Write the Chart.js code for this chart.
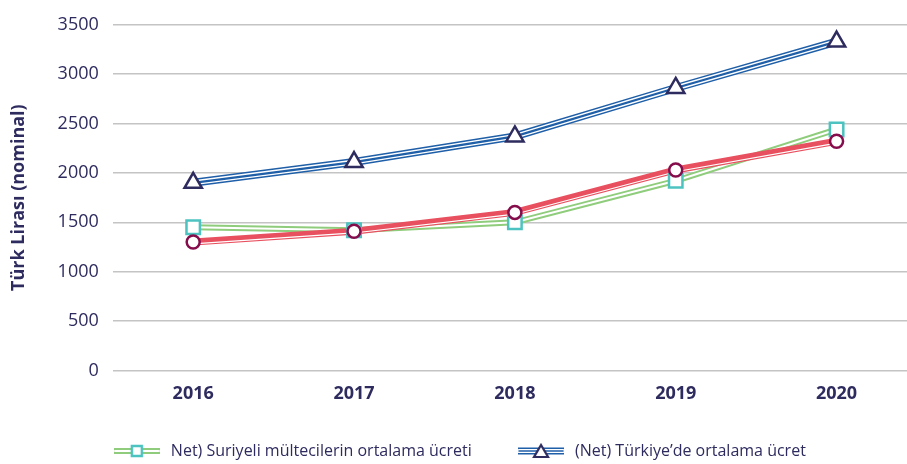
<!DOCTYPE html>
<html>
<head>
<meta charset="utf-8">
<script src="https://cdn.jsdelivr.net/npm/chart.js@4.4.1/dist/chart.umd.min.js"></script>
<style>
  html, body { margin: 0; padding: 0; background: #fff; overflow: hidden; }
</style>
</head>
<body>
<canvas id="chart" width="917" height="464"></canvas>
<script>
const years = ['2016', '2017', '2018', '2019', '2020'];
const refugeeWage = [1450, 1420, 1500, 1920, 2440];
const turkeyWage = [1900, 2110, 2370, 2860, 3330];
const otherWage = [1300, 1410, 1600, 2030, 2320];
const yTicks = [0, 500, 1000, 1500, 2000, 2500, 3000, 3500];
const refugeeLabel = 'Net) Suriyeli mültecilerin ortalama ücreti';
const turkeyLabel = '(Net) Türkiye’de ortalama ücret';

const navy = '#2e2b5f';
const green = '#8fcd7c';
const teal = '#4cc3c0';
const blue = '#1f5fa8';
const red = '#e8505f';
const maroon = '#850d4c';
const font = '"Open Sans", "Noto Sans", sans-serif';

function legendIcon(kind) {
  const c = document.createElement('canvas');
  c.width = 46; c.height = 16;
  const g = c.getContext('2d');
  const y = 8;
  function stroke(color, w) {
    g.strokeStyle = color; g.lineWidth = w;
    g.beginPath(); g.moveTo(1, y); g.lineTo(45, y); g.stroke();
  }
  g.lineCap = 'round';
  if (kind === 'green') {
    stroke(green, 6); stroke('#fff', 2);
    g.fillStyle = '#fff'; g.strokeStyle = teal; g.lineWidth = 2.5;
    g.fillRect(18, 3, 10, 10); g.strokeRect(18, 3, 10, 10);
  } else {
    stroke(blue, 7); stroke('#fff', 4); stroke(blue, 1.5);
    g.fillStyle = '#fff'; g.strokeStyle = navy; g.lineWidth = 2.2;
    g.beginPath(); g.moveTo(23, 2); g.lineTo(30, 14); g.lineTo(16, 14); g.closePath();
    g.fill(); g.stroke();
  }
  return c;
}

// draws a dataset shifted a few pixels down (thin half of the compound red line)
const shiftPlugin = {
  id: 'shift',
  beforeDatasetDraw(chart, args) {
    const dy = chart.data.datasets[args.index].shiftY;
    if (dy) { chart.ctx.save(); chart.ctx.translate(0, dy); }
  },
  afterDatasetDraw(chart, args) {
    if (chart.data.datasets[args.index].shiftY) chart.ctx.restore();
  }
};

function lineSet(data, color, width, order, extra) {
  return Object.assign({
    data: data, borderColor: color, borderWidth: width, pointRadius: 0,
    tension: 0, fill: false, order: order, label: ''
  }, extra || {});
}

function markerSet(data, label, style, radius, color, order) {
  return {
    label: label, data: data, showLine: false, pointStyle: style,
    pointRadius: radius, pointBorderWidth: 2.5, pointBorderColor: color,
    pointBackgroundColor: '#fff', order: order, clip: false
  };
}

const ctx = document.getElementById('chart').getContext('2d');
new Chart(ctx, {
  type: 'line',
  data: {
    labels: years,
    datasets: [
      lineSet(refugeeWage, green, 6, 60),
      lineSet(refugeeWage, '#fff', 2, 55),
      lineSet(otherWage, red, 7, 50),
      lineSet(otherWage, '#fff', 1.2, 45, { shiftY: 1.8 }),
      lineSet(turkeyWage, blue, 8, 40),
      lineSet(turkeyWage, '#fff', 5, 35),
      lineSet(turkeyWage, blue, 2.2, 30),
      markerSet(refugeeWage, refugeeLabel, 'rect', 9.5, teal, 10),
      markerSet(turkeyWage, turkeyLabel, 'triangle', 10, navy, 9),
      markerSet(otherWage, '', 'circle', 6.5, maroon, 5)
    ]
  },
  options: {
    responsive: false,
    animation: false,
    layout: { autoPadding: false, padding: { left: 8, right: 0, top: 19, bottom: -5 } },
    plugins: {
      tooltip: { enabled: false },
      legend: {
        position: 'bottom',
        labels: {
          usePointStyle: true,
          pointStyleWidth: 52,
          padding: 10,
          color: navy,
          font: { family: font, size: 16 },
          generateLabels: function() {
            return [
              { text: refugeeLabel + '        ', pointStyle: legendIcon('green'), fontColor: navy, lineWidth: 0, hidden: false },
              { text: turkeyLabel + '  ', pointStyle: legendIcon('blue'), fontColor: navy, lineWidth: 0, hidden: false }
            ];
          }
        }
      }
    },
    scales: {
      x: {
        offset: true,
        grid: { display: false },
        border: { display: false },
        ticks: { color: navy, font: { family: font, size: 18, weight: 'bold' }, padding: 5 },
        afterFit: function(axis) { axis.height += 23; }
      },
      y: {
        min: 0,
        max: 3500,
        afterBuildTicks: function(axis) { axis.ticks = yTicks.map(v => ({ value: v })); },
        grid: { color: '#c4c4c4', lineWidth: 1.5, drawTicks: false },
        border: { display: false },
        ticks: { color: navy, font: { family: font, size: 18 }, padding: 14, callback: v => String(v) },
        title: {
          display: true,
          text: 'Türk Lirası (nominal)',
          color: navy,
          font: { family: font, size: 18, weight: 'bold' },
          padding: { top: 0, bottom: 14 }
        }
      }
    }
  },
  plugins: [shiftPlugin]
});
</script>
</body>
</html>
